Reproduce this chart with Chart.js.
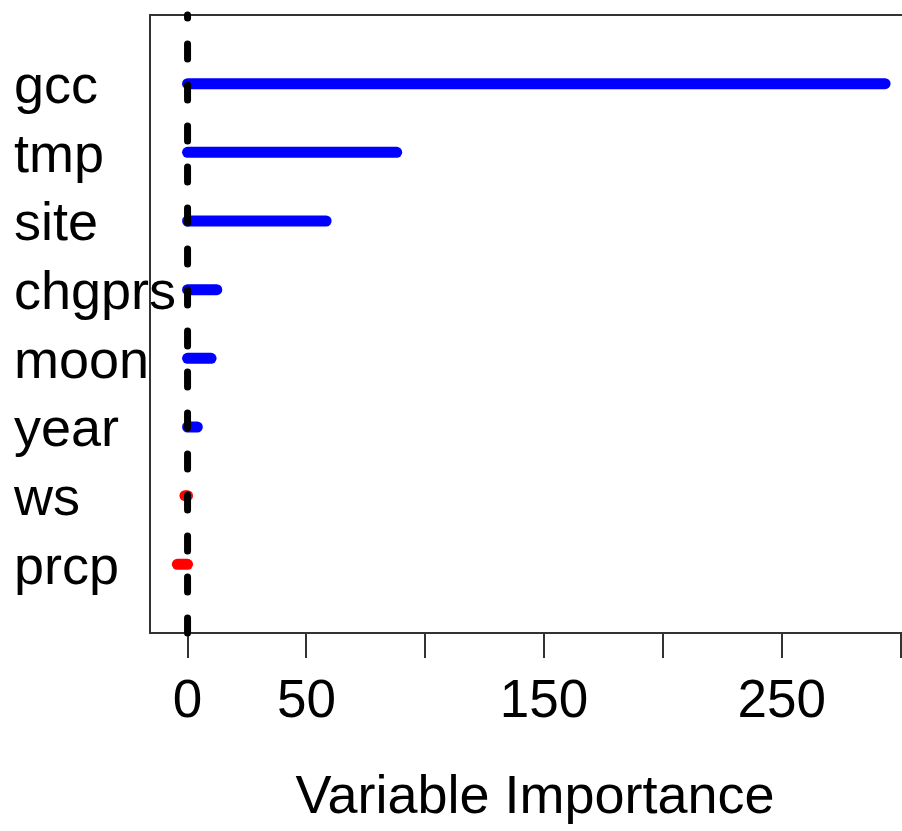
<!DOCTYPE html>
<html><head><meta charset="utf-8">
<script src="https://cdn.jsdelivr.net/npm/chart.js@4.4.0/dist/chart.umd.min.js"></script>
<style>
html,body{margin:0;padding:0;overflow:hidden;background:#fff;width:902px;height:831px}
#wrap{width:926px;height:831px}
</style></head>
<body><div id="wrap"><canvas id="c" width="926" height="831"></canvas></div>
<script>
const categories = ['gcc','tmp','site','chgprs','moon','year','ws','prcp'];
const importance = [293.5, 88.0, 58.3, 12.3, 9.9, 4.1, -1.1, -4.3];
const xTicks = [0, 50, 100, 150, 200, 250, 300];
const xTickLabels = ['0', '50', '', '150', '', '250', ''];
const xTitle = 'Variable Importance';

const n = categories.length;
const pos = i => n - i;
const FONT = "'Liberation Sans', Arial, sans-serif";

const datasets = [{
  data: [{x: 0, y: 0}, {x: 0, y: n + 1}],
  borderColor: '#000', borderWidth: 7, borderDash: [15, 26], borderCapStyle: 'round',
  pointRadius: 0, showLine: true, order: 0, clip: false
}];
categories.forEach((c, i) => {
  datasets.push({
    data: [{x: 0, y: pos(i)}, {x: importance[i], y: pos(i)}],
    borderColor: importance[i] > 0 ? '#0000ff' : '#ff0000',
    borderWidth: 11, borderCapStyle: 'round', pointRadius: 0, showLine: true, order: 1, clip: false
  });
});

const frame = {
  id: 'frame',
  beforeDatasetsDraw(chart) {
    const {ctx, chartArea: a} = chart;
    ctx.save();
    ctx.strokeStyle = '#333';
    ctx.lineWidth = 2;
    ctx.strokeRect(a.left, a.top, a.right - a.left, a.bottom - a.top);
    ctx.restore();
  }
};

new Chart(document.getElementById('c'), {
  type: 'scatter',
  data: {datasets},
  plugins: [frame],
  options: {
    responsive: false, animation: false, devicePixelRatio: 1,
    layout: {padding: {left: 14, top: 15, right: 6, bottom: 0}},
    plugins: {legend: {display: false}, tooltip: {enabled: false}},
    scales: {
      x: {
        type: 'linear', min: -15.8, max: 308.2,
        afterBuildTicks: s => { s.ticks = xTicks.map(v => ({value: v})); },
        ticks: {callback: (v, i) => xTickLabels[i], font: {family: FONT, size: 53}, color: '#000', padding: 13, maxRotation: 0, autoSkip: false},
        grid: {drawOnChartArea: false, drawTicks: true, tickLength: 25, color: '#333', lineWidth: 2},
        border: {display: false},
        title: {display: true, text: xTitle, font: {family: FONT, size: 54}, color: '#000', padding: {top: 0, bottom: 0}},
        afterFit: s => { s.height = 198; s.paddingLeft = 0; s.paddingRight = 0; }
      },
      y: {
        type: 'linear', min: 0, max: n + 1,
        afterBuildTicks: s => { s.ticks = categories.map((c, i) => ({value: pos(i)})); },
        ticks: {callback: v => ['', categories[n - v]], font: {family: FONT, size: 54, lineHeight: '9px'}, color: '#000', crossAlign: 'far', autoSkip: false, padding: 0},
        grid: {display: false},
        border: {display: false},
        afterFit: s => { s.width = 136; s.paddingTop = 0; s.paddingBottom = 0; s._computeLabelArea = () => undefined; }
      }
    }
  }
});
</script>
</body></html>
